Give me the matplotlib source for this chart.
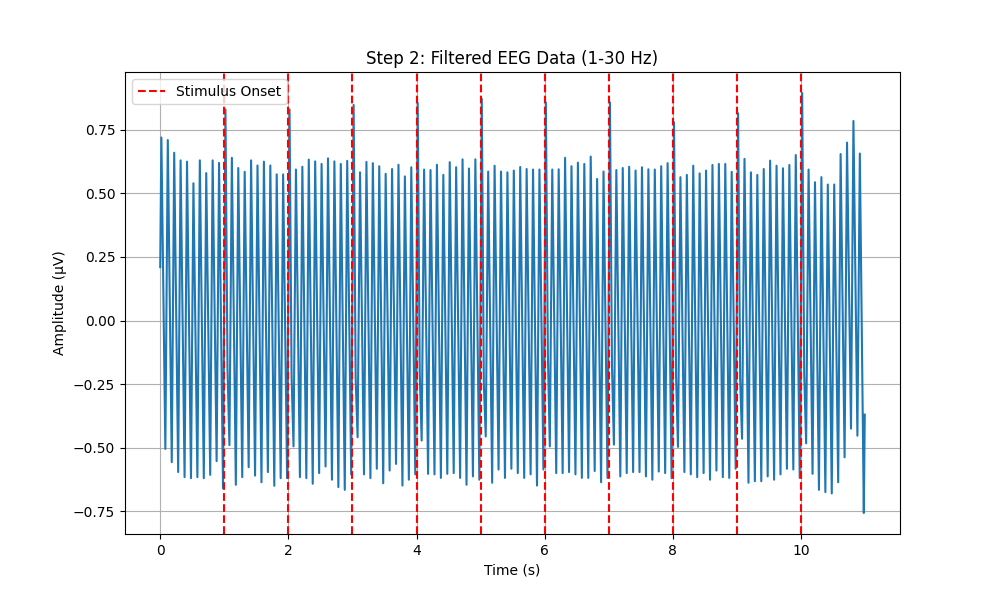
import numpy as np
import matplotlib
matplotlib.use("Agg")
import matplotlib.pyplot as plt

# Peak / trough amplitudes (uV) read per alpha cycle, one row per second (10 cycles each)
peak_vals = [
    [0.72, 0.71, 0.66, 0.63, 0.625, 0.54, 0.63, 0.58, 0.63, 0.62],
    [0.83, 0.64, 0.60, 0.585, 0.63, 0.61, 0.625, 0.61, 0.575, 0.575],
    [0.83, 0.594, 0.605, 0.633, 0.626, 0.616, 0.638, 0.626, 0.616, 0.628],
    [0.848, 0.583, 0.624, 0.619, 0.607, 0.577, 0.596, 0.613, 0.567, 0.603],
    [0.856, 0.594, 0.592, 0.613, 0.573, 0.623, 0.603, 0.634, 0.598, 0.634],
    [0.872, 0.586, 0.609, 0.586, 0.583, 0.59, 0.604, 0.596, 0.594, 0.594],
    [0.858, 0.594, 0.595, 0.64, 0.607, 0.621, 0.616, 0.645, 0.557, 0.586],
    [0.858, 0.592, 0.60, 0.605, 0.59, 0.603, 0.595, 0.594, 0.607, 0.619],
    [0.78, 0.564, 0.573, 0.609, 0.579, 0.59, 0.612, 0.616, 0.616, 0.585],
    [0.815, 0.636, 0.583, 0.573, 0.596, 0.629, 0.609, 0.599, 0.612, 0.651],
    [0.895, 0.594, 0.544, 0.564, 0.535, 0.535, 0.655, 0.70, 0.785, 0.657],
]
trough_vals = [
    [-0.505, -0.557, -0.596, -0.616, -0.62, -0.616, -0.62, -0.607, -0.553, -0.66],
    [-0.49, -0.646, -0.616, -0.577, -0.61, -0.636, -0.596, -0.65, -0.62, -0.62],
    [-0.495, -0.616, -0.62, -0.642, -0.60, -0.574, -0.626, -0.655, -0.666, -0.605],
    [-0.459, -0.605, -0.62, -0.583, -0.64, -0.59, -0.564, -0.649, -0.626, -0.605],
    [-0.472, -0.603, -0.605, -0.619, -0.603, -0.60, -0.619, -0.646, -0.613, -0.626],
    [-0.456, -0.638, -0.586, -0.619, -0.583, -0.60, -0.619, -0.605, -0.649, -0.586],
    [-0.495, -0.60, -0.60, -0.596, -0.605, -0.619, -0.619, -0.592, -0.636, -0.619],
    [-0.488, -0.613, -0.60, -0.596, -0.596, -0.613, -0.626, -0.594, -0.60, -0.62],
    [-0.497, -0.596, -0.605, -0.616, -0.60, -0.626, -0.59, -0.616, -0.619, -0.583],
    [-0.465, -0.638, -0.632, -0.632, -0.613, -0.626, -0.605, -0.583, -0.586, -0.619],
    [-0.483, -0.603, -0.666, -0.675, -0.68, -0.636, -0.538, -0.425, -0.453, -0.757],
]
# shoulder on the falling edge right after each stimulus peak
erp_kink_vals = [-0.19, -0.22, -0.23, -0.21, -0.25, -0.14, -0.18, -0.22, -0.23, -0.21]
stim_times = [1, 2, 3, 4, 5, 6, 7, 8, 9, 10]
start_val = 0.21
end_val = -0.37
end_time = 10.995
cycle = 0.1
peak_phase = 0.018
kink_phase = 0.05
trough_phase = 0.08

times = [0.0]
values = [start_val]
for sec, (prow, trow) in enumerate(zip(peak_vals, trough_vals)):
    for k, (p, tr) in enumerate(zip(prow, trow)):
        t0 = sec + k * cycle
        times.append(t0 + peak_phase)
        values.append(p)
        if k == 0 and sec in stim_times:
            times.append(t0 + kink_phase)
            values.append(erp_kink_vals[stim_times.index(sec)])
        times.append(t0 + trough_phase)
        values.append(tr)
times.append(end_time)
values.append(end_val)

fig, ax = plt.subplots(figsize=(10, 6), dpi=100)
ax.plot(times, values)
for i, st in enumerate(stim_times):
    ax.axvline(st, color="r", linestyle="--", label="Stimulus Onset" if i == 0 else None)
ax.set_title("Step 2: Filtered EEG Data (1-30 Hz)")
ax.set_xlabel("Time (s)")
ax.set_ylabel("Amplitude (µV)")
ax.legend(loc="upper left")
ax.grid(True)

fig.savefig("out.png")
